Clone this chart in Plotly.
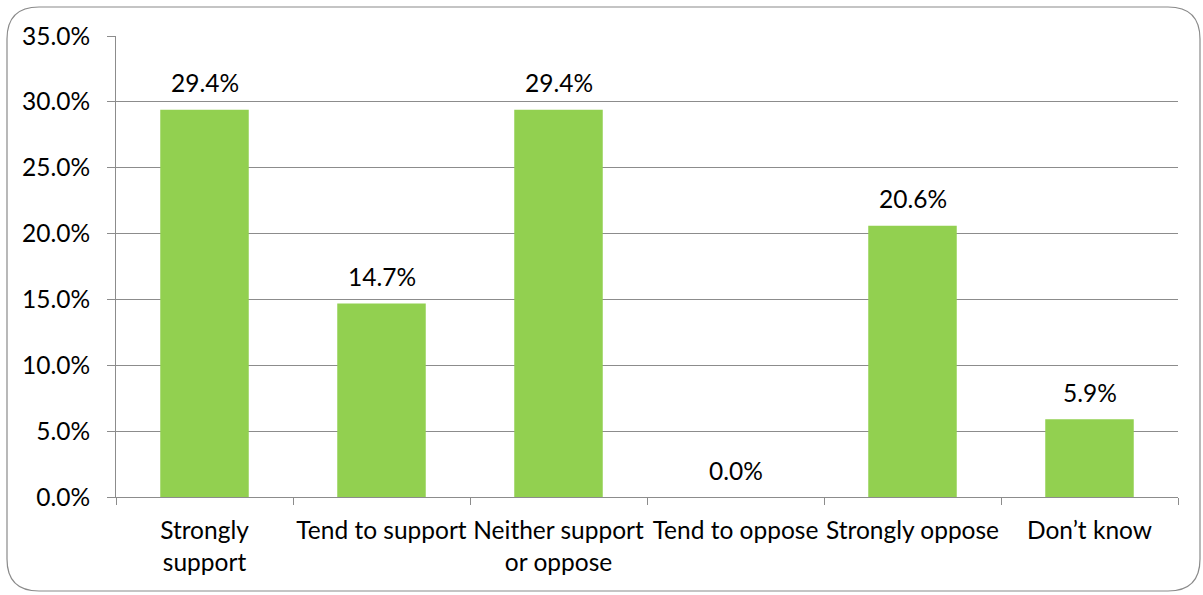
import plotly.graph_objects as go

categories = ["Strongly<br>support", "Tend to support", "Neither support<br>or oppose",
              "Tend to oppose", "Strongly oppose", "Don\u2019t know"]
values = [29.4, 14.7, 29.4, 0.0, 20.6, 5.9]
y_ticks = [0, 5, 10, 15, 20, 25, 30, 35]
y_tick_labels = ["0.0%", "5.0%", "10.0%", "15.0%", "20.0%", "25.0%", "30.0%", "35.0%"]

W, H = 1203, 595
L, R, T, B = 116, 25, 36, 98
FONT = "Lato"
FS = 24.5
GRID = "#8c8c8c"
BAR = "#92D050"

fig = go.Figure()
fig.add_trace(go.Bar(x=categories, y=values, marker=dict(color=BAR, line=dict(width=0)),
                     width=0.5, hoverinfo="skip"))

for c, v in zip(categories, values):
    fig.add_annotation(x=c, y=v, text=f"{v:.1f}%", showarrow=False, yanchor="middle",
                       yshift=27, font=dict(family=FONT, size=FS, color="#000000"))

# rounded outer border (pixel -> paper conversion)
pw, ph = W - L - R, H - T - B
def px(x):
    return (x - L) / pw
def py(y):
    return 1 - (y - T) / ph
x0, x1, y0, y1, r = 7, 1200, 7, 591, 32
path = (f"M {px(x0 + r)},{py(y0)} L {px(x1 - r)},{py(y0)} "
        f"Q {px(x1)},{py(y0)} {px(x1)},{py(y0 + r)} "
        f"L {px(x1)},{py(y1 - r)} Q {px(x1)},{py(y1)} {px(x1 - r)},{py(y1)} "
        f"L {px(x0 + r)},{py(y1)} Q {px(x0)},{py(y1)} {px(x0)},{py(y1 - r)} "
        f"L {px(x0)},{py(y0 + r)} Q {px(x0)},{py(y0)} {px(x0 + r)},{py(y0)} Z")
fig.add_shape(type="path", path=path, xref="paper", yref="paper",
              line=dict(color="#8a8a8a", width=1.2), layer="below")

fig.update_layout(
    width=W, height=H,
    margin=dict(l=L, r=R, t=T, b=B, pad=0, autoexpand=False),
    paper_bgcolor="white", plot_bgcolor="white",
    showlegend=False,
    font=dict(family=FONT, size=FS, color="#000000"),
    bargap=0.5,
)
fig.update_xaxes(
    showline=True, linecolor=GRID, linewidth=1,
    ticks="outside", ticklen=7, tickcolor=GRID, tickwidth=1,
    tickson="boundaries", showgrid=False, tickangle=0, automargin=False,
    ticklabelstandoff=12,
    tickfont=dict(family=FONT, size=FS, color="#000000"),
)
fig.update_yaxes(
    range=[0, 35], tickmode="array", tickvals=y_ticks, ticktext=y_tick_labels,
    showline=True, linecolor=GRID, linewidth=1, automargin=False,
    showgrid=True, gridcolor=GRID, gridwidth=1,
    ticks="outside", ticklen=8, tickcolor=GRID, tickwidth=1,
    ticklabelstandoff=12, zeroline=False,
    tickfont=dict(family=FONT, size=FS, color="#000000"),
)

fig.write_html("out.html")
